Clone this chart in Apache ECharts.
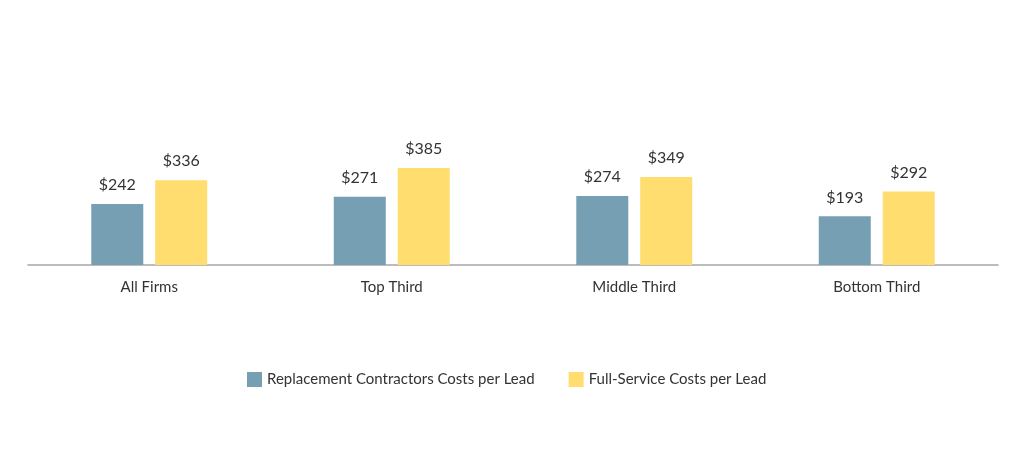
<!DOCTYPE html>
<html>
<head>
<meta charset="utf-8">
<script src="https://cdn.jsdelivr.net/npm/echarts@6/dist/echarts.min.js"></script>
<style>html,body{margin:0;padding:0;background:#fff;}#c{width:1023px;height:464px;}</style>
</head>
<body>
<div id="c"></div>
<script>
const categories = ['All Firms', 'Top Third', 'Middle Third', 'Bottom Third'];
const replacementCosts = [242, 271, 274, 193];
const fullServiceCosts = [336, 385, 349, 292];
const seriesNames = ['Replacement Contractors Costs per Lead', 'Full-Service Costs per Lead'];

const chart = echarts.init(document.getElementById('c'));
const labelOpt = {
  show: true, position: 'top', distance: 11,
  formatter: p => '$' + p.value,
  fontFamily: 'Lato', fontSize: 16, color: '#333'
};
chart.setOption({
  animation: false,
  textStyle: { fontFamily: 'Lato' },
  grid: { left: 28, right: 25, top: 13, bottom: 199 },
  legend: {
    bottom: 72, left: 242, itemWidth: 15, itemHeight: 15, itemGap: 34,
    icon: 'rect',
    textStyle: { fontFamily: 'Lato', fontSize: 15, color: '#333' },
    data: seriesNames
  },
  xAxis: {
    type: 'category', data: categories,
    axisLine: { lineStyle: { color: '#a6a6a6', width: 1.5 } },
    axisTick: { show: false },
    axisLabel: { fontFamily: 'Lato', fontSize: 15, color: '#333', margin: 15 }
  },
  yAxis: { type: 'value', min: 0, max: 1000, show: false, splitLine: { show: false } },
  series: [
    { name: seriesNames[0], type: 'bar', data: replacementCosts, barWidth: 52, barGap: '23%',
      itemStyle: { color: '#779fb3' }, label: labelOpt },
    { name: seriesNames[1], type: 'bar', data: fullServiceCosts, barWidth: 52,
      itemStyle: { color: '#ffdd6f' }, label: labelOpt }
  ]
});
</script>
</body>
</html>
